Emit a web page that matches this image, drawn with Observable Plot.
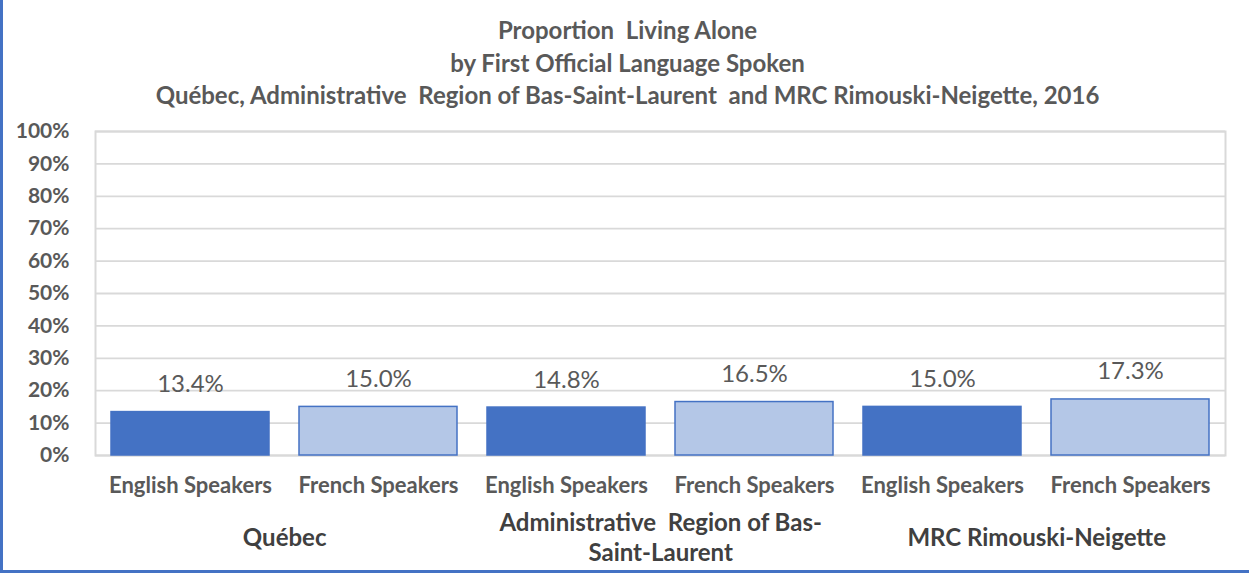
<!DOCTYPE html>
<html>
<head>
<meta charset="utf-8">
<script src="https://cdn.jsdelivr.net/npm/d3@7"></script>
<script src="https://cdn.jsdelivr.net/npm/@observablehq/plot@0.6"></script>
<style>
  html, body { margin: 0; padding: 0; background: #fff; }
  #wrap {
    position: relative; width: 1249px; height: 573px; box-sizing: border-box;
    border-left: 3px solid #4472C4; border-bottom: 3px solid #4472C4;
    font-family: Lato, "Open Sans", sans-serif; overflow: hidden;
  }
  #title {
    position: absolute; left: 0; top: 14px; width: 1249px; text-align: center;
    color: #595959; font-weight: bold; font-size: 24px; line-height: 32.5px;
  }
  #chart { position: absolute; left: -3px; top: 115px; }
</style>
</head>
<body>
<div id="wrap">
  <div id="title">
    <div>Proportion&nbsp; Living Alone</div>
    <div>by First Official Language Spoken</div>
    <div>Québec, Administrative&nbsp; Region of Bas-Saint-Laurent&nbsp; and MRC Rimouski-Neigette, 2016</div>
  </div>
  <div id="chart"></div>
</div>
<script>
const regions = ["Québec", "Administrative Region of Bas-Saint-Laurent", "MRC Rimouski-Neigette"];
const regionLabels = ["Québec", "Administrative  Region of Bas-\nSaint-Laurent", "MRC Rimouski-Neigette"];
const languages = ["English Speakers", "French Speakers"];
const englishValues = [0.134, 0.148, 0.150];
const frenchValues = [0.150, 0.165, 0.173];
const yTicks = [0, 0.1, 0.2, 0.3, 0.4, 0.5, 0.6, 0.7, 0.8, 0.9, 1.0];

const data = [];
regions.forEach((r, i) => {
  data.push({region: r, lang: languages[0], key: r + "|" + languages[0], value: englishValues[i]});
  data.push({region: r, lang: languages[1], key: r + "|" + languages[1], value: frenchValues[i]});
});
const keys = data.map(d => d.key);
const groups = regions.map((r, i) => ({key: r + "|" + languages[0], label: regionLabels[i]}));

const width = 1249, marginLeft = 95, marginRight = 24;
const step = (width - marginLeft - marginRight) / keys.length;

const chart = Plot.plot({
  width, height: 456,
  marginLeft, marginRight, marginTop: 16, marginBottom: 116,
  style: {fontFamily: "Lato, 'Open Sans', sans-serif", background: "transparent"},
  x: {domain: keys, paddingInner: 0.158, paddingOuter: 0.079, axis: null},
  y: {domain: [0, 1], axis: null},
  marks: [
    Plot.ruleY(yTicks, {stroke: "#d9d9d9", strokeWidth: 1.8}),
    Plot.frame({stroke: "#d9d9d9", strokeWidth: 2}),
    Plot.barY(data, {
      x: "key", y: "value",
      fill: d => d.lang === languages[0] ? "#4472C4" : "#B4C7E7",
      stroke: "#4472C4", strokeWidth: 1.5
    }),
    Plot.text(data, {
      x: "key", y: "value", text: d => d3.format(".1%")(d.value),
      dy: -20, lineAnchor: "bottom", fontSize: 24, fill: "#595959"
    }),
    Plot.axisY({
      ticks: yTicks, tickFormat: d3.format(".0%"), tickSize: 0, tickPadding: 26,
      fontSize: 21, fontWeight: "bold", fill: "#595959", label: null
    }),
    Plot.axisX({
      tickSize: 0, tickPadding: 22, tickFormat: k => k.split("|")[1],
      fontSize: 22, fontWeight: "bold", fill: "#595959", label: null
    }),
    Plot.text(groups, {
      x: "key", text: "label", frameAnchor: "bottom", dx: step / 2, dy: 81,
      lineAnchor: "middle", lineHeight: 1.25, fontSize: 24, fontWeight: "bold", fill: "#404040"
    })
  ]
});
document.getElementById("chart").appendChild(chart);
</script>
</body>
</html>
